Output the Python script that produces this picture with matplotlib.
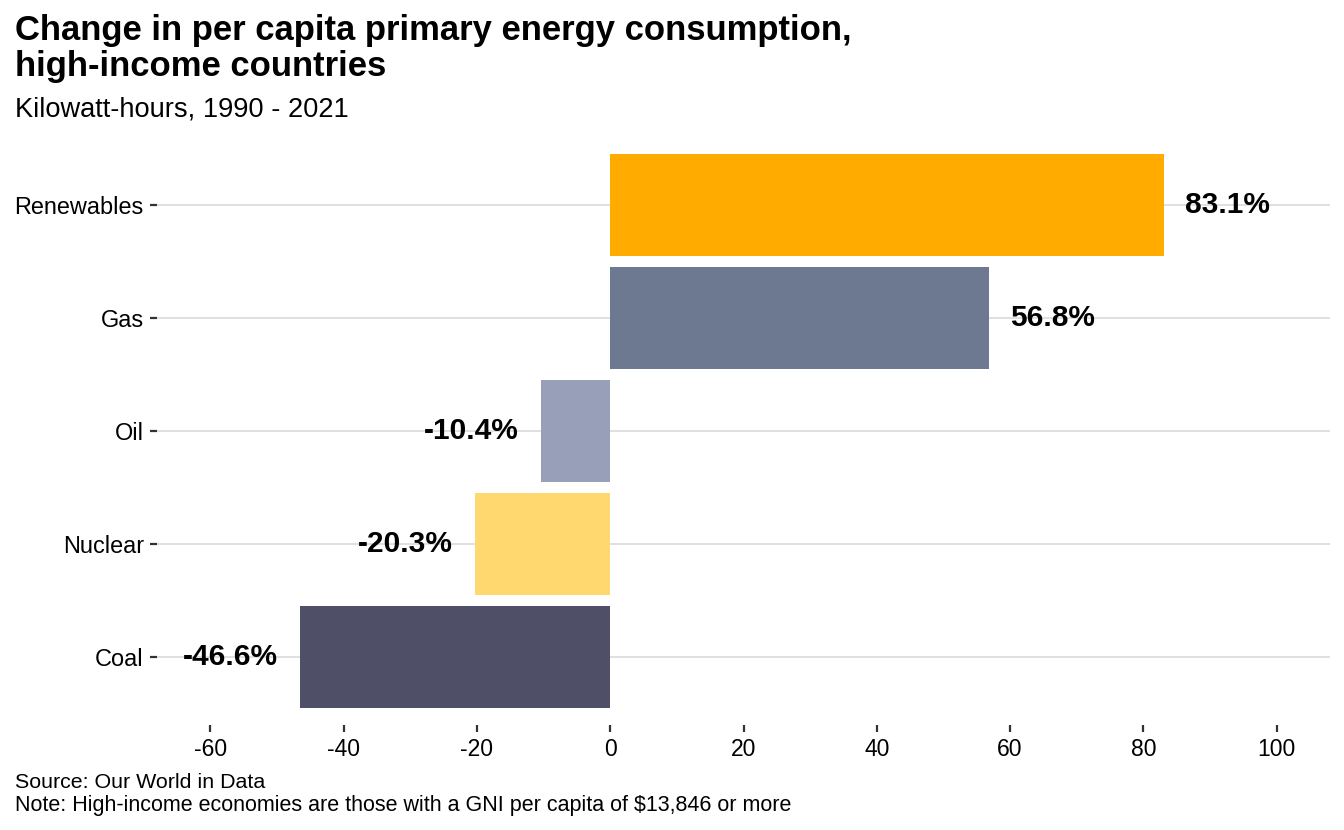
import numpy as np
import matplotlib.pyplot as plt

plt.rcParams['font.family'] = ['Liberation Sans', 'DejaVu Sans']

# data
fuentes = ['Coal', 'Nuclear', 'Oil', 'Gas', 'Renewables']
cambio = [-46.6, -20.3, -10.4, 56.8, 83.1]
colores = ['#4F5067', '#FFD96F', '#98A0B9', '#6D7891', '#FFAB00']
xticks = [-60, -40, -20, 0, 20, 40, 60, 80, 100]

fig = plt.figure(figsize=(13.44, 8.30), dpi=100)
ax = fig.add_axes([157/1344, 1 - 725/830, (1330-157)/1344, (725-137)/830])

y = np.arange(len(fuentes))
ax.barh(y, cambio, height=0.9, color=colores, zorder=2)

for yi, v in zip(y, cambio):
    if v >= 0:
        ax.annotate('%.1f%%' % v, (v, yi), xytext=(15, 0), textcoords='offset points',
                    ha='left', va='center', fontsize=21.5, fontweight='bold', zorder=3)
    else:
        ax.annotate('%.1f%%' % v, (v, yi), xytext=(-16, 0), textcoords='offset points',
                    ha='right', va='center', fontsize=21.5, fontweight='bold', zorder=3)

ax.set_xlim(-68, 108)
ax.set_ylim(-0.6, 4.6)
ax.set_yticks(y)
ax.set_yticklabels(fuentes, fontsize=16.9)
ax.set_xticks(xticks)
ax.set_xticklabels([str(t) for t in xticks], fontsize=16.5)
ax.grid(axis='y', color='#DDDDDD', lw=1.3, zorder=0)
ax.grid(axis='x', visible=False)
for s in ax.spines.values():
    s.set_visible(False)
ax.tick_params(axis='both', length=5, width=1.6, color='#333333', pad=4.5)

fig.text(15/1344, 1 - 40/830, 'Change in per capita primary energy consumption,',
         fontsize=24.9, fontweight='bold', va='baseline', ha='left')
fig.text(15/1344, 1 - 76/830, 'high-income countries',
         fontsize=24.9, fontweight='bold', va='baseline', ha='left')
fig.text(15/1344, 1 - 116/830, 'Kilowatt-hours, 1990 - 2021', fontsize=19.6, va='baseline', ha='left')
fig.text(15/1344, 1 - 788/830, 'Source: Our World in Data', fontsize=15.4, va='baseline', ha='left')
fig.text(15/1344, 1 - 811/830, 'Note: High-income economies are those with a GNI per capita of $13,846 or more',
         fontsize=15.5, va='baseline', ha='left')

plt.savefig('out.png', dpi=100)
